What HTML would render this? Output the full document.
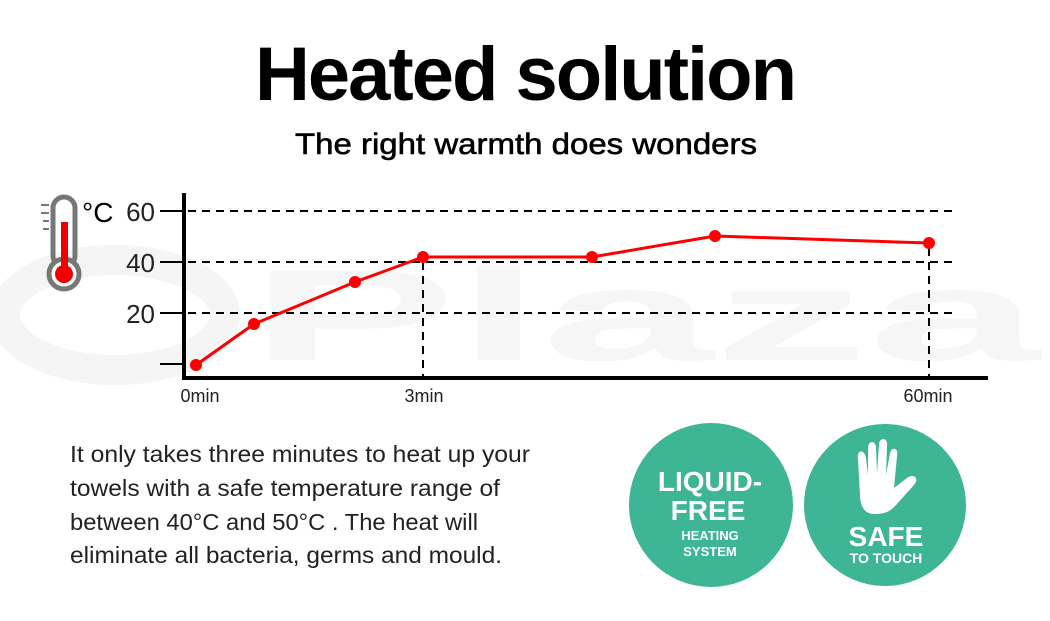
<!DOCTYPE html>
<html><head><style>
body{margin:0;width:1050px;height:621px;background:#fff;overflow:hidden;position:relative;font-family:"Liberation Sans",sans-serif}
</style></head><body>
<svg width="1050" height="621" style="position:absolute;left:0;top:0">
<g fill="#f6f6f6">
<ellipse cx="115" cy="315" rx="110" ry="55" fill="none" stroke="#f5f5f5" stroke-width="30"/>
<text x="250" y="360" font-size="130" font-weight="bold" font-family="Liberation Sans" textLength="790" lengthAdjust="spacingAndGlyphs">Plaza</text>
</g>
<text x="525" y="100" text-anchor="middle" font-size="76" font-weight="bold" font-family="Liberation Sans" letter-spacing="-2">Heated solution</text>
<text x="526" y="154" text-anchor="middle" font-size="30" font-family="Liberation Sans" stroke="#000" stroke-width="0.6" textLength="462" lengthAdjust="spacingAndGlyphs">The right warmth does wonders</text>
<!-- thermometer -->
<rect x="53" y="197" width="22" height="70" rx="11" fill="none" stroke="#777" stroke-width="5"/>
<circle cx="64" cy="274" r="15" fill="#fff" stroke="#777" stroke-width="5"/>
<rect x="61" y="222" width="7" height="50" fill="#e00"/>
<circle cx="64" cy="274" r="9" fill="#e00"/>
<g stroke="#777" stroke-width="2"><line x1="41" y1="205" x2="49" y2="205"/><line x1="41" y1="213" x2="49" y2="213"/><line x1="43" y1="221" x2="49" y2="221"/><line x1="43" y1="229" x2="49" y2="229"/></g>
<text x="82" y="222" font-size="28" font-family="Liberation Sans">°C</text>
<g font-size="26" font-family="Liberation Sans" fill="#222" text-anchor="end">
<text x="155" y="221">60</text><text x="155" y="272">40</text><text x="155" y="323">20</text></g>
<g stroke="#000" stroke-width="2"><line x1="160" y1="211" x2="186" y2="211"/><line x1="160" y1="262" x2="186" y2="262"/><line x1="160" y1="313" x2="186" y2="313"/><line x1="160" y1="364" x2="186" y2="364"/></g>
<g stroke="#000" stroke-width="2" stroke-dasharray="8,6"><line x1="188" y1="211" x2="958" y2="211"/><line x1="188" y1="262" x2="958" y2="262"/><line x1="188" y1="313" x2="958" y2="313"/><line x1="423" y1="262" x2="423" y2="378"/><line x1="929" y1="248" x2="929" y2="378"/></g>
<path d="M184 193V378H988" fill="none" stroke="#000" stroke-width="4"/>
<polyline points="196,365 254,324 355,282 423,257 592,257 715,236 929,243" fill="none" stroke="#f00" stroke-width="3"/>
<g fill="#f00"><circle cx="196" cy="365" r="6"/><circle cx="254" cy="324" r="6"/><circle cx="355" cy="282" r="6"/><circle cx="423" cy="257" r="6"/><circle cx="592" cy="257" r="6"/><circle cx="715" cy="236" r="6"/><circle cx="929" cy="243" r="6"/></g>
<g font-size="18" font-family="Liberation Sans" fill="#222" text-anchor="middle"><text x="200" y="402">0min</text><text x="424" y="402">3min</text><text x="928" y="402">60min</text></g>
<g font-size="23" font-family="Liberation Sans" fill="#222">
<text x="70" y="462" textLength="460" lengthAdjust="spacingAndGlyphs">It only takes three minutes to heat up your</text>
<text x="70" y="496" textLength="430" lengthAdjust="spacingAndGlyphs">towels with a safe temperature range of</text>
<text x="70" y="530" textLength="408" lengthAdjust="spacingAndGlyphs">between 40°C and 50°C . The heat will</text>
<text x="70" y="563" textLength="432" lengthAdjust="spacingAndGlyphs">eliminate all bacteria, germs and mould.</text></g>
<circle cx="711" cy="505" r="82" fill="#3eb594"/>
<circle cx="885" cy="505" r="81" fill="#3eb594"/>
<g fill="#fff" font-family="Liberation Sans" font-weight="bold" text-anchor="middle">
<text x="710" y="491" font-size="28">LIQUID-</text>
<text x="708" y="520" font-size="28">FREE</text>
<text x="710" y="540" font-size="13">HEATING</text>
<text x="710" y="556" font-size="13">SYSTEM</text>
<text x="886" y="546" font-size="28">SAFE</text>
<text x="886" y="563" font-size="14">TO TOUCH</text></g>
<path d="M858 460 C856 450 864 448 866 458 L868 475 L868 448 C868 440 876 440 876 448 L877 473 L879 444 C880 437 888 437 887 446 L886 475 L890 453 C892 446 899 448 897 456 L894 488 L907 478 C913 473 920 478 914 485 L896 505 C890 512 884 514 874 514 C864 514 860 505 860 495 Z" fill="#fff"/>
</svg>
</body></html>
